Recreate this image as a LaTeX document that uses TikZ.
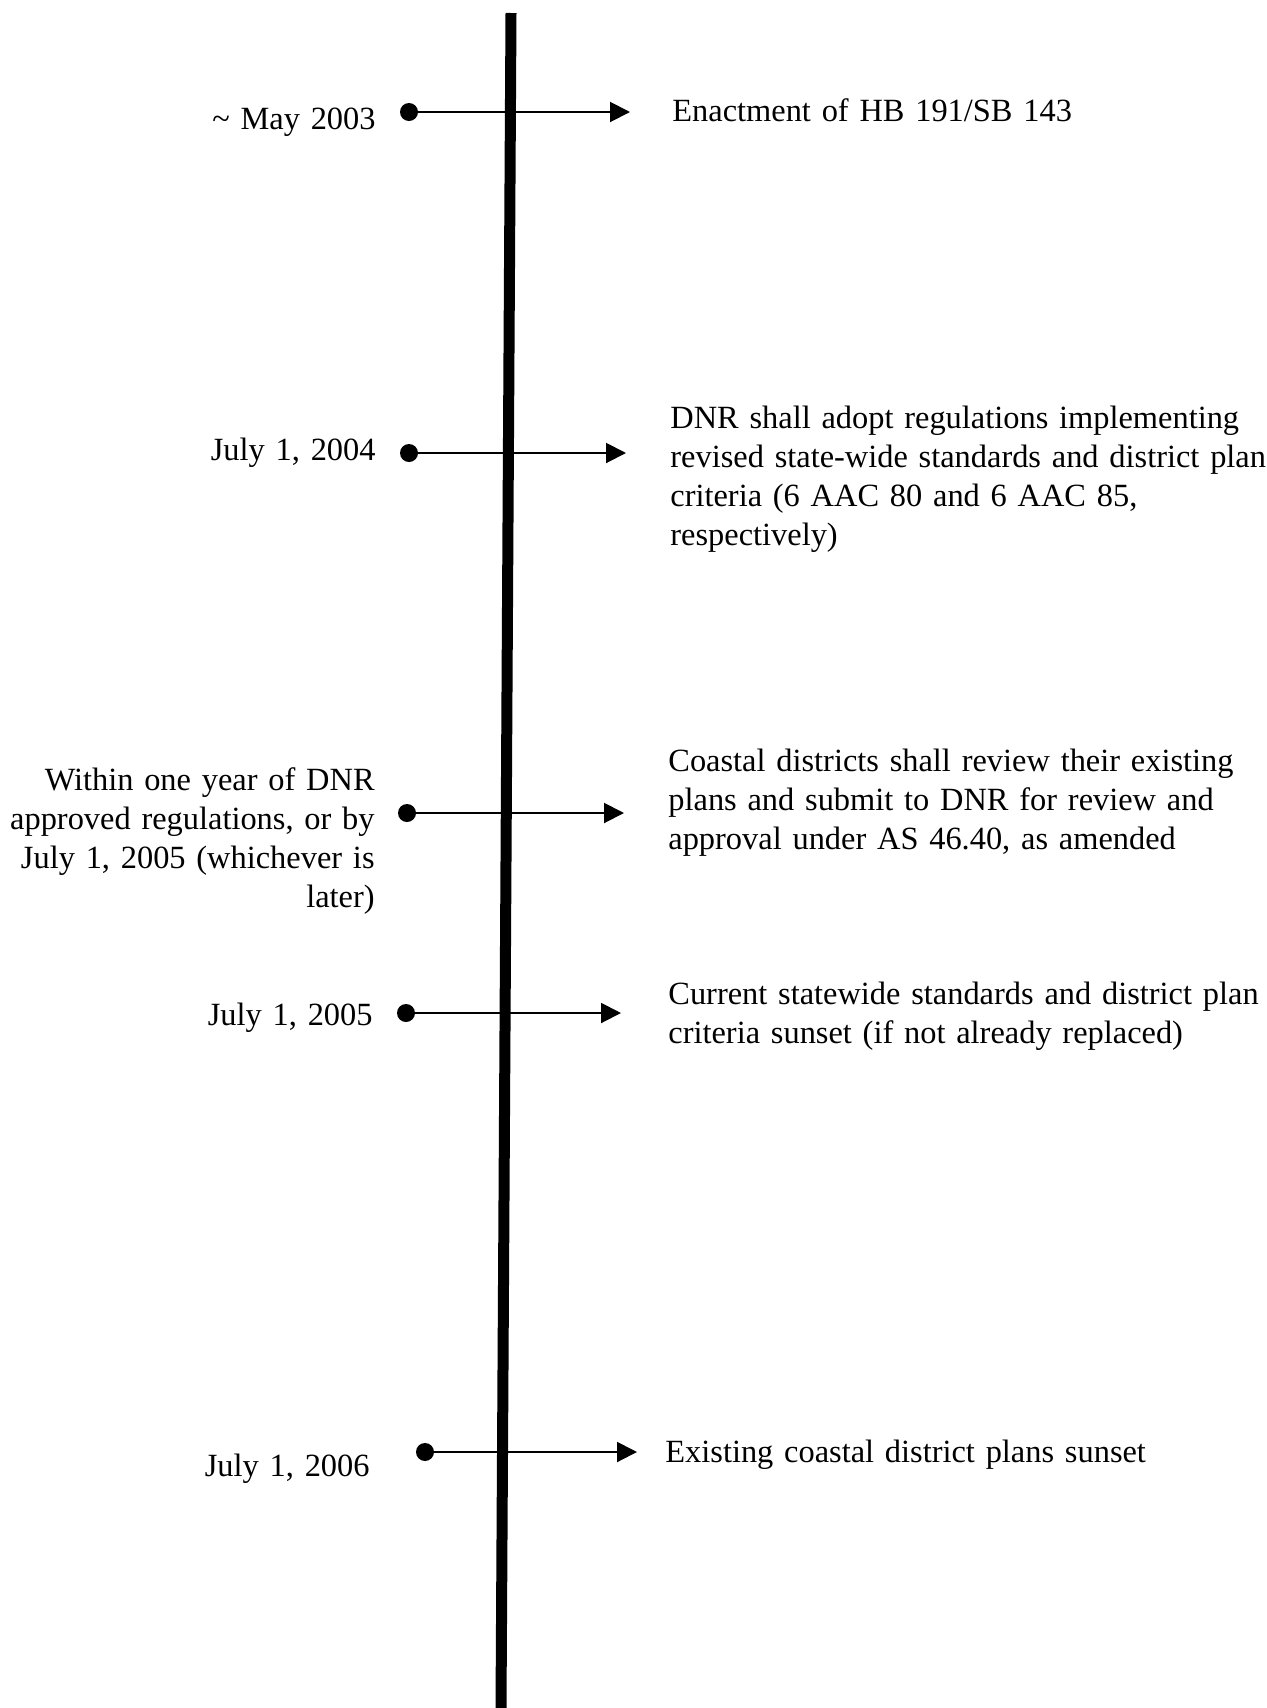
\documentclass[tikz,border=0pt]{standalone}
\usepackage{fontspec}
\setmainfont[WordSpace=0.85]{Liberation Serif}
\usetikzlibrary{arrows.meta}

\begin{document}
\begin{tikzpicture}[x=0.5pt,y=-0.5pt,
	dot/.style={circle,fill=black,inner sep=0pt,minimum size=9pt},
	date/.style={anchor=base east,inner sep=0pt,text width=200pt,align=right,font=\fontsize{16.2}{19.5}\selectfont},
	event/.style={anchor=base west,inner sep=0pt,text width=320pt,align=left,font=\fontsize{16.2}{19.5}\selectfont},
	link/.style={line width=1pt,-{Triangle[length=10pt,width=10pt]}}]
				\useasboundingbox (0,0) rectangle (1266,1708);
				
				\coordinate(top) at (511,13);
				\coordinate(bottom) at (501,1708);
				\draw[line width=5.5pt] (top) -- (bottom);
				
				\node(may03) at (409,112)[dot]{};
				\node(jul04) at (409,453)[dot]{};
				\node(within05) at (407,813)[dot]{};
				\node(jul05) at (406,1013)[dot]{};
				\node(jul06) at (425,1452)[dot]{};
				
				\coordinate(may03tip) at (630,112);
				\coordinate(jul04tip) at (626,453);
				\coordinate(within05tip) at (624,813);
				\coordinate(jul05tip) at (621,1013);
				\coordinate(jul06tip) at (637,1452);
				
				\node(may03date) at (376,129)[date]{\textasciitilde{} May 2003};
				\node(jul04date) at (376,460)[date]{July 1, 2004};
				\node(within05date) at (375,790)[date]{Within one year of DNR\\ approved regulations, or by\\ July 1, 2005 (whichever is\\ later)};
				\node(jul05date) at (373,1025)[date]{July 1, 2005};
				\node(jul06date) at (370,1476)[date]{July 1, 2006};
				
				\node(may03text) at (672,121)[event]{Enactment of HB 191/SB 143};
				\node(jul04text) at (670,428)[event]{DNR shall adopt regulations implementing\\ revised state-wide standards and district plan\\ criteria (6 AAC 80 and 6 AAC 85,\\ respectively)};
				\node(within05text) at (668,771)[event]{Coastal districts shall review their existing\\ plans and submit to DNR for review and\\ approval under AS 46.40, as amended};
				\node(jul05text) at (668,1004)[event]{Current statewide standards and district plan\\ criteria sunset (if not already replaced)};
				\node(jul06text) at (665,1462)[event]{Existing coastal district plans sunset};
				
				\draw[link] (may03.center) -- (may03tip);
				\draw[link] (jul04.center) -- (jul04tip);
				\draw[link] (within05.center) -- (within05tip);
				\draw[link] (jul05.center) -- (jul05tip);
				\draw[link] (jul06.center) -- (jul06tip);
				
			\end{tikzpicture}
\end{document}
